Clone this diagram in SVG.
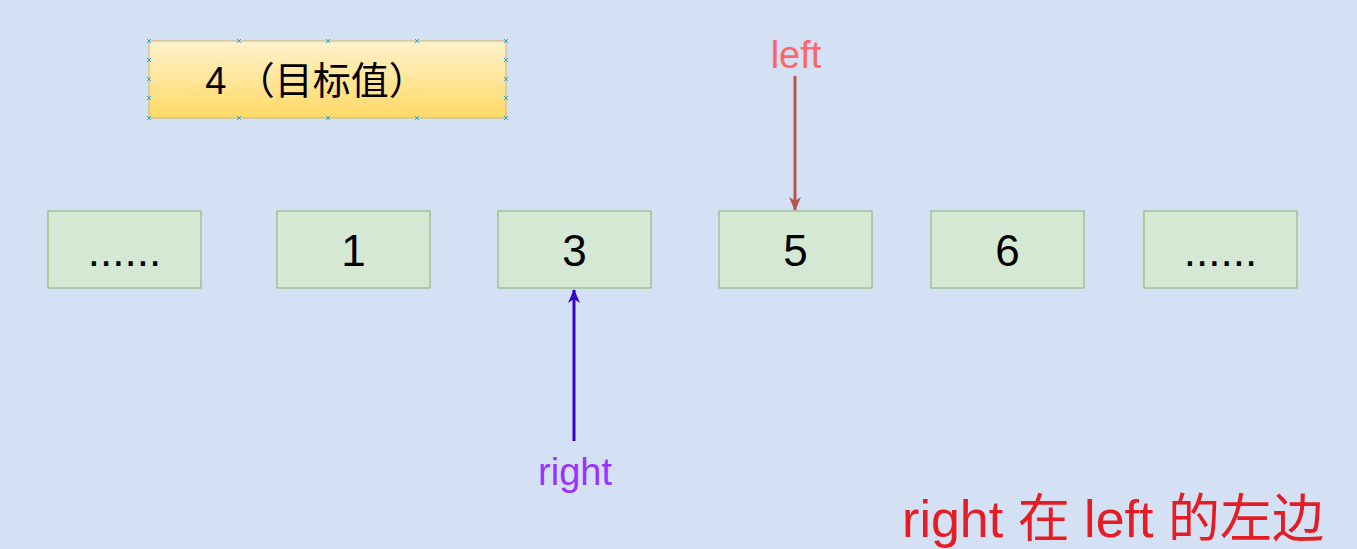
<svg xmlns="http://www.w3.org/2000/svg" width="1357" height="549" viewBox="0 0 1357 549">
<defs>
<linearGradient id="yg" x1="0" y1="0" x2="0" y2="1"><stop offset="0" stop-color="#fff2cc"/><stop offset="1" stop-color="#ffd966"/></linearGradient>
<marker id="ar" markerWidth="14" markerHeight="14" refX="13" refY="7" orient="auto" markerUnits="userSpaceOnUse" viewBox="0 0 14 14"><path d="M0,1 L14,7 L0,13 L4,7 Z" fill="#b85450"/></marker>
<marker id="ab" markerWidth="14" markerHeight="14" refX="13" refY="7" orient="auto" markerUnits="userSpaceOnUse" viewBox="0 0 14 14"><path d="M0,1 L14,7 L0,13 L4,7 Z" fill="#3700cc"/></marker>
</defs>
<style>
.n{fill:#d5e8d4;stroke:#82b366;stroke-width:1}
.t{font-family:"Liberation Sans","Noto Sans CJK SC",sans-serif;font-size:44px;fill:#000;text-anchor:middle}
.h{stroke:#29a8e0;stroke-width:1}
</style>
<rect width="1357" height="549" fill="#d4e1f4"/>
<g id="target">
<rect x="149" y="41" width="357" height="77" fill="url(#yg)" stroke="#d6b656"/>
<text x="316" y="94" font-family="Liberation Sans,Noto Sans CJK SC,sans-serif" font-size="38" text-anchor="middle">4 （目标值）</text>
<g class="h">
<path d="M147,39l4,4m0,-4l-4,4M237,39l4,4m0,-4l-4,4M326,39l4,4m0,-4l-4,4M415,39l4,4m0,-4l-4,4M504,39l4,4m0,-4l-4,4M147,116l4,4m0,-4l-4,4M237,116l4,4m0,-4l-4,4M326,116l4,4m0,-4l-4,4M415,116l4,4m0,-4l-4,4M504,116l4,4m0,-4l-4,4M147,58l4,4m0,-4l-4,4M147,77l4,4m0,-4l-4,4M147,96l4,4m0,-4l-4,4M504,58l4,4m0,-4l-4,4M504,77l4,4m0,-4l-4,4M504,96l4,4m0,-4l-4,4"/>
</g>
</g>
<g id="n0"><rect class="n" x="48" y="211" width="153" height="77"/><text class="t" x="124.5" y="266">......</text></g>
<g id="n1"><rect class="n" x="277" y="211" width="153" height="77"/><text class="t" x="353.5" y="266">1</text></g>
<g id="n2"><rect class="n" x="498" y="211" width="153" height="77"/><text class="t" x="574.5" y="266">3</text></g>
<g id="n3"><rect class="n" x="719" y="211" width="153" height="77"/><text class="t" x="795.5" y="266">5</text></g>
<g id="n4"><rect class="n" x="931" y="211" width="153" height="77"/><text class="t" x="1007.5" y="266">6</text></g>
<g id="n5"><rect class="n" x="1144" y="211" width="153" height="77"/><text class="t" x="1220.5" y="266">......</text></g>
<g id="connectors">
<line x1="795" y1="76" x2="795" y2="210" stroke="#b85450" stroke-width="3" marker-end="url(#ar)"/>
<line x1="574" y1="441" x2="574" y2="290" stroke="#3700cc" stroke-width="3" marker-end="url(#ab)"/>
</g>
<text x="796" y="68" font-family="Liberation Sans,sans-serif" font-size="38" fill="#ff6666" text-anchor="middle">left</text>
<text x="575" y="485" font-family="Liberation Sans,sans-serif" font-size="38" fill="#9933ff" text-anchor="middle">right</text>
<text x="1113" y="537" font-family="Liberation Sans,Noto Sans CJK SC,sans-serif" font-size="52" fill="#e51c23" text-anchor="middle">right 在 left 的左边</text>
</svg>
